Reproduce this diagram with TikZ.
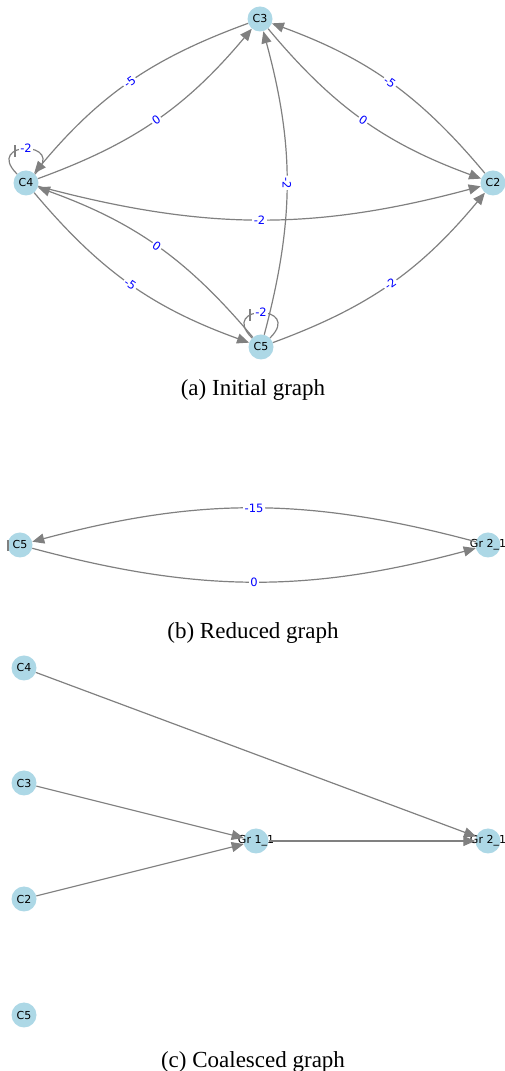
\documentclass[tikz,border=0pt]{standalone}
\usepackage{fontspec}
\setmainfont{Liberation Serif}
\newfontfamily\dejavu{DejaVu Sans}
\usepackage{tikz}
\usetikzlibrary{arrows.meta}
\definecolor{nodeblue}{RGB}{173,216,230}
\definecolor{edgegray}{RGB}{128,128,128}

\begin{document}
\begin{tikzpicture} [x=1pt, y=1pt,
		vertex/.style={circle, fill=nodeblue, minimum size=25pt, inner sep=0pt, font=\dejavu\fontsize{11}{13}\selectfont},
		every label/.style={font=\dejavu\fontsize{11}{13}\selectfont, inner sep=0pt},
		edge/.style={draw=edgegray, line width=1.2pt, -{Triangle[length=12pt, width=10pt]}, edgegray},
		elab/.style={sloped, fill=white, text=blue, inner sep=1.5pt, font=\dejavu\fontsize{11.5}{13}\selectfont},
		tick/.style={edgegray, line width=2pt},
		caption/.style={anchor=base, font=\fontsize{23}{27}\selectfont}]
			\useasboundingbox (0,0) rectangle (505,1071);
			
			\node[vertex] (c3) at (260,1052) {C3};
			\node[vertex] (c4) at (26,888) {C4};
			\node[vertex] (c2) at (493,888) {C2};
			\node[vertex] (c5) at (261,724) {C5};
			
			\foreach \a/\b/\w in {c3/c4/-5, c4/c3/0, c2/c3/-5, c3/c2/0, c4/c2/-2, c4/c5/-5, c5/c4/0, c5/c2/-2, c5/c3/-2}
			\draw[edge] (\a) to[bend right=15] node[elab] {\w} (\b);
			
			\foreach \a in {c4,c5}
			{
			\draw[edge, -] (\a) to[out=135, in=45, min distance=48pt] node[elab, sloped=false] {-2} (\a);
			\draw[tick] (\a) ++(-11.5,26) -- ++(0,12);
			}
			
			\node[caption] (capa) at (253,675) {(a) Initial graph};
			
			\node[vertex] (c5b) at (20,526) {C5};
			\node[vertex, label={center:Gr 2\_1}] (g2b) at (488,526) {};
			\draw[edge] (g2b) to[bend right=15] node[elab] {-15} (c5b);
			\draw[edge] (c5b) to[bend right=15] node[elab] {0} (g2b);
			\draw[tick] (c5b) ++(-12,-6) -- ++(0,11);
			
			\node[caption] (capb) at (253,432) {(b) Reduced graph};
			
			\foreach \n/\y in {4/403, 3/288, 2/172, 5/56}
			\node[vertex] (cc\n) at (24,\y) {C\n};
			\node[vertex, label={center:Gr 1\_1}] (g1c) at (256,230) {};
			\node[vertex, label={center:Gr 2\_1}] (g2c) at (488,230) {};
			
			\draw[edge] (cc4) -- (g2c);
			\draw[edge] (cc3) -- (g1c);
			\draw[edge] (cc2) -- (g1c);
			\draw[edge] (g1c) -- (g2c);
			
			\node[caption] (capc) at (253,3) {(c) Coalesced graph};
		\end{tikzpicture}
\end{document}
